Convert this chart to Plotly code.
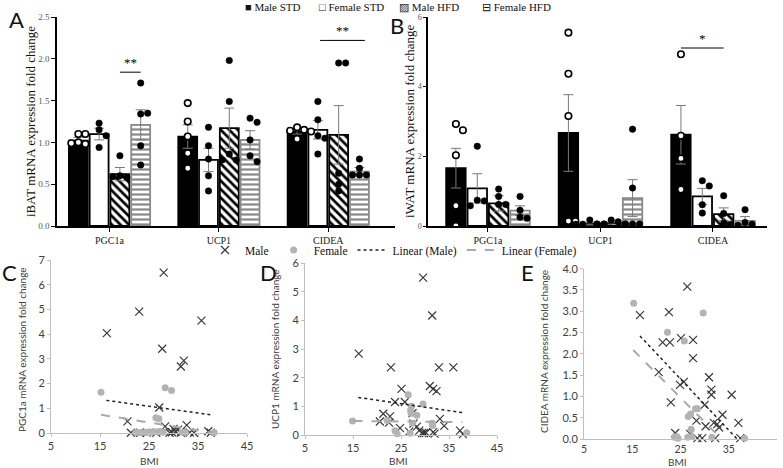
import plotly.graph_objects as go

W, H = 783, 468
SERIF = "Liberation Serif"
SANS = "Lato"

def dom_x(a, b):
    return [a / W, b / W]

def dom_y(top, bottom):
    return [1 - bottom / H, 1 - top / H]

# ---------------- data ----------------
genes = ["PGC1a", "UCP1", "CIDEA"]
groups = ["Male STD", "Female STD", "Male HFD", "Female HFD"]

# Panel A: iBAT
ibat_male_std = [1.02, 1.07, 1.13]
ibat_female_std = [1.10, 0.79, 1.15]
ibat_male_hfd = [0.62, 1.17, 1.09]
ibat_female_hfd = [1.21, 1.03, 0.65]
ibat_sem_male_std = [0.04, 0.14, 0.03]
ibat_sem_female_std = [0.07, 0.14, 0.11]
ibat_sem_male_hfd = [0.08, 0.24, 0.35]
ibat_sem_female_hfd = [0.18, 0.11, 0.05]
ibat_pts_male_std = [[1.10, 1.10, 1.00, 0.98, 0.99], [1.47, 1.25, 1.07, 0.87, 0.69], [1.18, 1.15, 1.14, 1.13, 1.04]]
ibat_pts_female_std = [[1.23, 1.15, 1.08, 0.94], [1.18, 0.96, 0.80, 0.60, 0.42], [1.49, 1.27, 1.08, 1.05, 0.86]]
ibat_pts_male_hfd = [[0.84, 0.60, 0.58, 0.59], [1.98, 1.49, 0.86, 0.79, 0.79], [1.95, 1.95, 0.63, 0.50, 0.42]]
ibat_pts_female_hfd = [[1.71, 1.34, 1.35, 0.96, 0.73], [1.29, 1.24, 1.03, 0.84, 0.77], [0.80, 0.69, 0.61, 0.61, 0.61]]

# Panel B: iWAT
iwat_male_std = [1.66, 2.67, 2.62]
iwat_female_std = [1.08, 0.06, 0.85]
iwat_male_hfd = [0.65, 0.08, 0.34]
iwat_female_hfd = [0.44, 0.80, 0.15]
iwat_sem_male_std = [0.57, 1.10, 0.84]
iwat_sem_female_std = [0.42, 0.03, 0.23]
iwat_sem_male_hfd = [0.22, 0.03, 0.18]
iwat_sem_female_hfd = [0.14, 0.53, 0.12]
iwat_pts_male_std = [[2.93, 2.75, 2.03, 0.58, 0.0], [5.55, 4.37, 3.16, 0.14, 0.14], [4.93, 2.59, 1.94, 1.05]]
iwat_pts_female_std = [[2.29, 0.74, 0.72, 0.58], [0.17, 0.06, 0.05, 0.05, 0.05], [1.30, 1.15, 0.61, 0.37]]
iwat_pts_male_hfd = [[1.06, 0.85, 0.62, 0.62], [0.17, 0.12, 0.06, 0.05, 0.05], [0.87, 0.36, 0.08, 0.05]]
iwat_pts_female_hfd = [[0.85, 0.45, 0.25, 0.22], [2.78, 1.09, 0.06, 0.06, 0.06], [0.47, 0.10, 0.05, 0.02]]

# Panel C: PGC1a vs BMI
c_male_bmi = [28.0, 23.0, 16.4, 35.7, 27.7, 32.1, 31.5, 27.1, 20.6, 28.3, 32.7, 30.9, 30.0, 37.1, 21.3, 23.2, 29.2, 29.7, 30.4, 31.5, 33.3, 34.2, 37.6, 26.5, 24.5]
c_male_val = [6.49, 4.91, 4.04, 4.55, 3.41, 2.93, 2.69, 1.03, 0.47, 0.27, 0.32, 0.13, 0.17, 0.07, 0.01, 0.01, 0.01, 0.03, 0.05, 0.01, 0.02, 0.01, 0.01, 0.01, 0.01]
c_female_bmi = [15.2, 28.3, 29.6, 26.4, 27.0, 22.3, 23.3, 24.2, 24.7, 25.3, 26.0, 26.7, 27.3, 27.9, 31.8, 32.4, 38.3]
c_female_val = [1.65, 1.83, 1.72, 0.62, 0.58, 0.02, 0.02, 0.02, 0.03, 0.02, 0.05, 0.04, 0.06, 0.03, 0.03, 0.02, 0.02]
c_fit_male_bmi, c_fit_male_val = [16.3, 37.5], [1.32, 0.74]
c_fit_female_bmi, c_fit_female_val = [15.2, 38.3], [0.74, 0.0]

# Panel D: UCP1 vs BMI
d_male_bmi = [29.6, 31.5, 16.2, 22.9, 32.9, 35.9, 31.0, 31.7, 32.4, 25.1, 23.75, 25.8, 21.3, 22.7, 27.4, 33.1, 20.6, 22.5, 28.3, 34.0, 24.8, 26.7, 28.8, 29.4, 29.8, 30.2, 31.7, 32.0, 37.3, 37.9, 27.6]
d_male_val = [5.49, 4.17, 2.84, 2.36, 2.36, 2.36, 1.71, 1.61, 1.53, 1.61, 1.15, 1.15, 0.74, 0.65, 0.76, 0.56, 0.47, 0.43, 0.29, 0.32, 0.24, 0.12, 0.15, 0.07, 0.07, 0.08, 0.10, 0.05, 0.15, 0.03, 0.40]
d_female_bmi = [14.9, 22.1, 26.5, 27.2, 29.6, 27.0, 27.1, 28.3, 27.4, 31.5, 31.6, 23.75, 24.2, 26.9, 38.7]
d_female_val = [0.49, 0.51, 1.40, 1.00, 1.08, 0.86, 0.75, 0.69, 0.41, 0.41, 0.33, 0.15, 0.04, 0.06, 0.08]
d_fit_male_bmi, d_fit_male_val = [16.1, 37.8], [1.31, 0.78]
d_fit_female_bmi, d_fit_female_val = [15.1, 37.8], [0.49, 0.45]

# Panel E: CIDEA vs BMI
e_male_bmi = [26.4, 22.6, 16.6, 21.3, 22.8, 25.1, 27.6, 27.6, 20.5, 25.7, 24.9, 23.0, 30.9, 31.4, 31.4, 35.6, 30.0, 33.7, 28.3, 30.2, 31.9, 32.6, 33.0, 37.0, 23.9, 37.4, 28.5, 29.5, 32.2, 27.0]
e_male_val = [3.58, 2.98, 2.91, 2.27, 2.27, 2.37, 2.33, 1.90, 1.57, 1.34, 1.27, 0.86, 1.45, 1.16, 1.04, 1.04, 0.80, 0.57, 0.43, 0.30, 0.38, 0.35, 0.27, 0.38, 0.14, 0.02, 0.02, 0.02, 0.02, 0.12]
e_female_bmi = [15.3, 22.3, 25.8, 29.7, 26.6, 27.1, 28.1, 28.5, 27.2, 23.8, 24.5, 26.5, 27.4, 31.5, 38.3, 24.2]
e_female_val = [3.19, 2.51, 2.30, 2.96, 0.53, 0.59, 0.71, 0.71, 0.23, 0.04, 0.02, 0.04, 0.06, 0.04, 0.02, 0.06]
e_fit_male_bmi, e_fit_male_val = [16.6, 37.4], [2.42, -0.08]
e_fit_female_bmi, e_fit_female_val = [15.2, 38.3], [2.09, -0.55]

# ---------------- styles ----------------
BARGAP, BARGROUPGAP = 0.24, 0.09
slot = (1 - BARGAP) / 4
offsets = [-1.5 * slot, -0.5 * slot, 0.5 * slot, 1.5 * slot]

bar_styles = [
    dict(color="black", line=dict(color="black", width=1.8)),
    dict(color="white", line=dict(color="black", width=1.8)),
    dict(color="white", line=dict(color="black", width=1.8),
         pattern=dict(shape="\\", fgcolor="black", bgcolor="white", size=6, solidity=0.45, fillmode="replace")),
    dict(color="white", line=dict(color="#8a8a8a", width=1.8),
         pattern=dict(shape="-", fgcolor="#8a8a8a", bgcolor="white", size=5, solidity=0.45, fillmode="replace")),
]
pt_styles = [
    dict(color="white", size=6.5, line=dict(color="black", width=1.6)),
    dict(color="black", size=6.5, line=dict(color="black", width=0.5)),
    dict(color="black", size=6.5, line=dict(color="black", width=0.5)),
    dict(color="black", size=6.5, line=dict(color="black", width=0.5)),
]


def swarm(vals, ppy, d=7.0):
    placed, offs = [], []
    for v in vals:
        y = v * ppy
        x = 0.0
        for k in [0, 1, -1, 2, -2]:
            x = k * d
            if all((x - px) ** 2 + (y - py) ** 2 >= (0.9 * d) ** 2 for px, py in placed):
                break
        placed.append((x, y))
        offs.append(x)
    return offs


fig = go.Figure()


def add_bar_panel(xa, ya, means, sems, pts, ppx, ppy):
    for gi in range(4):
        fig.add_trace(go.Bar(
            x=[0, 1, 2], y=means[gi], name=groups[gi], xaxis=xa, yaxis=ya,
            marker=bar_styles[gi], showlegend=False,
            error_y=dict(type="data", array=sems[gi], color="#7a7a7a", thickness=1, width=5),
        ))
    for gi in range(4):
        xs, ys = [], []
        for ci in range(3):
            vals = pts[gi][ci]
            offs = swarm(vals, ppy)
            for v, o in zip(vals, offs):
                xs.append(ci + offsets[gi] + o / ppx)
                ys.append(v)
        fig.add_trace(go.Scatter(x=xs, y=ys, mode="markers", xaxis=xa, yaxis=ya,
                                 marker=pt_styles[gi], showlegend=False, hoverinfo="y"))


add_bar_panel("x", "y",
              [ibat_male_std, ibat_female_std, ibat_male_hfd, ibat_female_hfd],
              [ibat_sem_male_std, ibat_sem_female_std, ibat_sem_male_hfd, ibat_sem_female_hfd],
              [ibat_pts_male_std, ibat_pts_female_std, ibat_pts_male_hfd, ibat_pts_female_hfd],
              109.5, 83.6)
add_bar_panel("x2", "y2",
              [iwat_male_std, iwat_female_std, iwat_male_hfd, iwat_female_hfd],
              [iwat_sem_male_std, iwat_sem_female_std, iwat_sem_male_hfd, iwat_sem_female_hfd],
              [iwat_pts_male_std, iwat_pts_female_std, iwat_pts_male_hfd, iwat_pts_female_hfd],
              112.5, 34.8)

# scatter panels
male_marker = dict(symbol="x-thin-open", size=8, color="#3a3a3a", line=dict(color="#3a3a3a", width=1.2))
female_marker = dict(symbol="circle", size=7, color="#b3b3b3")
scat = [
    ("x3", "y3", c_male_bmi, c_male_val, c_female_bmi, c_female_val, c_fit_male_bmi, c_fit_male_val, c_fit_female_bmi, c_fit_female_val),
    ("x4", "y4", d_male_bmi, d_male_val, d_female_bmi, d_female_val, d_fit_male_bmi, d_fit_male_val, d_fit_female_bmi, d_fit_female_val),
    ("x5", "y5", e_male_bmi, e_male_val, e_female_bmi, e_female_val, e_fit_male_bmi, e_fit_male_val, e_fit_female_bmi, e_fit_female_val),
]
for i, (xa, ya, mb, mv, fb, fv, fmb, fmv, ffb, ffv) in enumerate(scat):
    show = i == 0
    fig.add_trace(go.Scatter(x=mb, y=mv, mode="markers", name="Male", xaxis=xa, yaxis=ya,
                             marker=male_marker, showlegend=show, legend="legend2", cliponaxis=False))
    fig.add_trace(go.Scatter(x=fb, y=fv, mode="markers", name="Female", xaxis=xa, yaxis=ya,
                             marker=female_marker, showlegend=show, legend="legend2", cliponaxis=False))
    fig.add_trace(go.Scatter(x=fmb, y=fmv, mode="lines", name="Linear (Male)", xaxis=xa, yaxis=ya,
                             line=dict(color="#222", dash="dot", width=1.5), showlegend=show, legend="legend2"))
    fig.add_trace(go.Scatter(x=ffb, y=ffv, mode="lines", name="Linear (Female)", xaxis=xa, yaxis=ya,
                             line=dict(color="#aaaaaa", dash="dash", width=2), showlegend=show, legend="legend2"))

# ---------------- axes ----------------
bar_x = dict(tickmode="array", tickvals=[0, 1, 2], ticktext=genes, showline=True, linecolor="black",
             linewidth=1.5, ticks="outside", ticklen=4, tickcolor="black", automargin=False,
             tickfont=dict(family=SERIF, size=10, color="#222"), showgrid=False, zeroline=False)
bar_y = dict(showline=True, linecolor="black", linewidth=1.5, ticks="outside", ticklen=4, tickcolor="black",
             automargin=False, tickfont=dict(family=SERIF, size=9, color="#555"), showgrid=False, zeroline=False)
sc_x = dict(range=[5, 45], tickvals=[5, 15, 25, 35, 45], showline=True, linecolor="#bfbfbf", linewidth=1,
            ticks="outside", ticklen=3, tickcolor="#bfbfbf", tickfont=dict(family=SANS, size=11, color="#404040"),
            showgrid=False, zeroline=False, automargin=False)
sc_y = dict(showline=True, linecolor="#bfbfbf", linewidth=1, ticks="outside", ticklen=3, tickcolor="#bfbfbf",
            tickfont=dict(family=SANS, size=11, color="#404040"), showgrid=False, zeroline=False, automargin=False)

fig.update_layout(
    template="none",
    width=W, height=H, margin=dict(l=0, r=0, t=0, b=0, pad=0, autoexpand=False),
    paper_bgcolor="white", plot_bgcolor="white",
    barmode="group", bargap=BARGAP, bargroupgap=BARGROUPGAP,
    xaxis=dict(bar_x, domain=dom_x(57, 395), range=[-0.48, 2.61], anchor="y"),
    yaxis=dict(bar_y, domain=dom_y(17, 226), range=[0, 2.5], tickvals=[0, 0.5, 1, 1.5, 2, 2.5], tickformat=".1f", anchor="x"),
    xaxis2=dict(bar_x, domain=dom_x(428, 767), range=[-0.533, 2.48], anchor="y2"),
    yaxis2=dict(bar_y, domain=dom_y(17, 226), range=[0, 6], tickvals=[0, 2, 4, 6], anchor="x2",
                ticklen=3, tickfont=dict(family=SERIF, size=8, color="#555")),
    xaxis3=dict(sc_x, domain=dom_x(51, 247), anchor="y3"),
    yaxis3=dict(sc_y, domain=dom_y(260, 433), range=[0, 7], dtick=1, anchor="x3"),
    xaxis4=dict(sc_x, domain=dom_x(305, 497), anchor="y4"),
    yaxis4=dict(sc_y, domain=dom_y(263, 435), range=[0, 6], dtick=1, anchor="x4"),
    xaxis5=dict(sc_x, domain=dom_x(584, 777), anchor="y5", ticks="",
                tickfont=dict(family=SANS, size=10.5, color="#404040")),
    yaxis5=dict(sc_y, domain=dom_y(268.7, 439), range=[0, 4], dtick=0.5, tickformat=".1f", anchor="x5"),
    legend2=dict(orientation="h", x=205 / W, y=1 - 250 / H, xanchor="left", yanchor="middle",
                 font=dict(family=SERIF, size=11.5, color="#111"), bgcolor="rgba(0,0,0,0)", itemwidth=30,
                 tracegroupgap=0),
    showlegend=True,
)

# significance marks
shapes = [
    dict(type="line", xref="x", yref="y", x0=0 + offsets[2], x1=0 + offsets[3], y0=1.84, y1=1.84, line=dict(color="black", width=1)),
    dict(type="line", xref="x", yref="y", x0=2 + offsets[1] + 0.02, x1=2 + offsets[3] + 0.05, y0=2.22, y1=2.22, line=dict(color="black", width=1)),
    dict(type="line", xref="x2", yref="y2", x0=2 + offsets[0], x1=2 + offsets[2], y0=5.11, y1=5.11, line=dict(color="black", width=1)),
]
fig.update_layout(shapes=shapes)

ann = []
ann.append(dict(text="**", xref="x", yref="y", x=(offsets[2] + offsets[3]) / 2, y=1.84, yanchor="bottom",
                showarrow=False, font=dict(family=SERIF, size=13, color="black")))
ann.append(dict(text="**", xref="x", yref="y", x=2 + (offsets[1] + offsets[3]) / 2 + 0.035, y=2.22, yanchor="bottom",
                showarrow=False, font=dict(family=SERIF, size=13, color="black")))
ann.append(dict(text="*", xref="x2", yref="y2", x=2 + (offsets[0] + offsets[2]) / 2, y=5.11, yanchor="bottom",
                showarrow=False, font=dict(family=SERIF, size=13, color="black")))

# axis titles
y_titles = [
    ("iBAT mRNA expression fold change", 31, 122, SERIF, 13, "#111"),
    ("iWAT mRNA expression fold change", 410, 121, SERIF, 13, "#111"),
    ("PGC1a mRNA expression fold change", 22, 350, SANS, 10, "#404040"),
    ("UCP1 mRNA expression fold change", 275, 349, SANS, 10, "#404040"),
    ("CIDEA mRNA expression fold change", 544, 352, SANS, 10, "#404040"),
]
for text, px, py, fam, size, col in y_titles:
    ann.append(dict(text=text, xref="paper", yref="paper", x=px / W, y=1 - py / H, textangle=-90,
                    xanchor="center", yanchor="middle", showarrow=False, font=dict(family=fam, size=size, color=col)))
for px, py in [(149, 461), (398, 461), (677, 462)]:
    ann.append(dict(text="BMI", xref="paper", yref="paper", x=px / W, y=1 - py / H,
                    xanchor="center", yanchor="middle", showarrow=False, font=dict(family=SANS, size=10, color="#404040")))

# top legend (bar groups)
legend_items = [("■", groups[0], 243), ("□", groups[1], 317), ("▨", groups[2], 397), ("⊟", groups[3], 480)]
for sym, name, px in legend_items:
    ann.append(dict(text=f"{sym} {name}", xref="paper", yref="paper", x=px / W, y=1 - 7 / H,
                    xanchor="left", yanchor="middle", showarrow=False,
                    font=dict(family=SERIF, size=11, color="#111")))

# panel letters
for letter, px, py in [("A", 16, 20), ("B", 397, 25), ("C", 9, 272), ("D", 268, 272), ("E", 527, 272)]:
    ann.append(dict(text=letter, xref="paper", yref="paper", x=px / W, y=1 - py / H, xanchor="center",
                    yanchor="middle", showarrow=False, font=dict(family=SANS, size=22, color="#111")))

fig.update_layout(annotations=ann)

fig.write_html("out.html", config={"displayModeBar": False},
               post_script="document.body.style.margin='0';document.body.style.overflow='hidden';")
